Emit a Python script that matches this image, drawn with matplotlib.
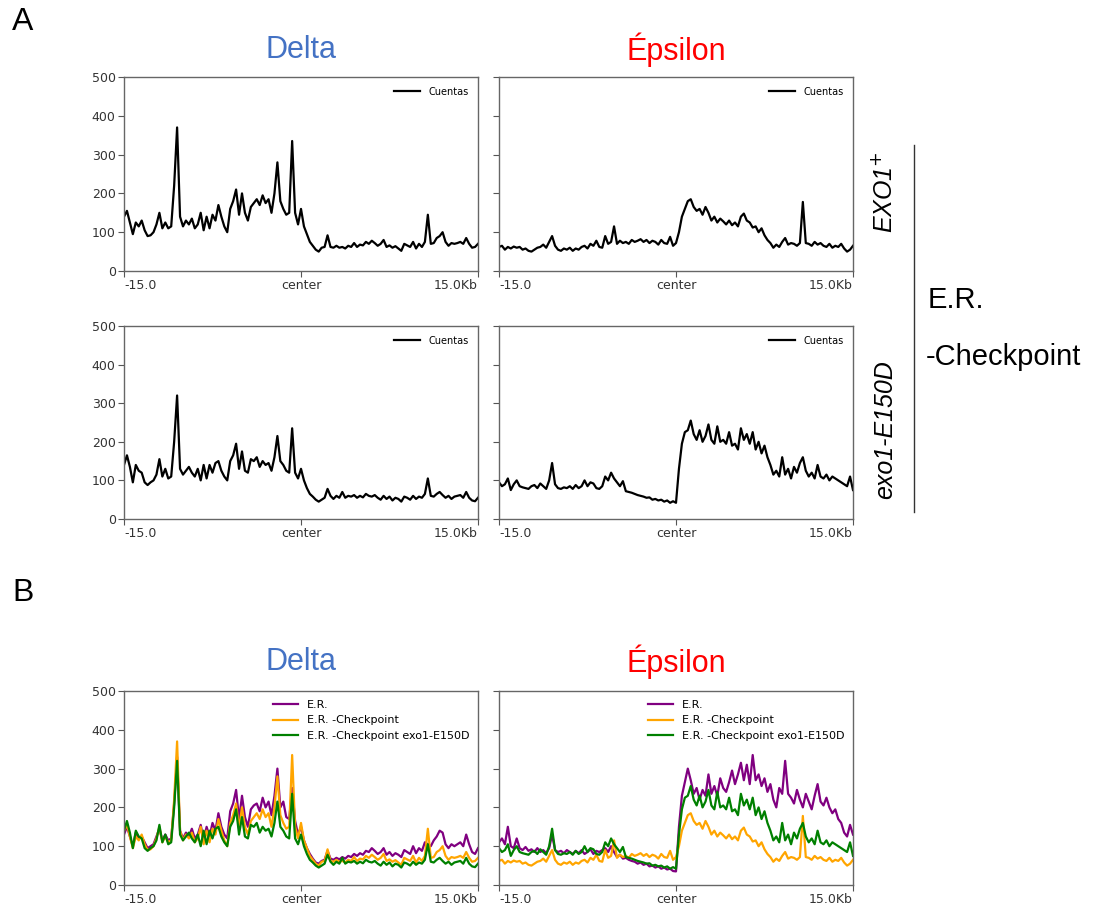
import matplotlib
matplotlib.use("Agg")
import matplotlib.pyplot as plt
import numpy as np

# profile bins, -15 kb .. +15 kb around the center
KB_LEFT = -15.0
KB_RIGHT = 15.0
X_TICKS = [-15.0, 0.0, 15.0]
X_TICK_LABELS = ["-15.0", "center", "15.0Kb"]
Y_TICKS = [0, 100, 200, 300, 400, 500]

COL_TITLES = ["Delta", "Épsilon"]
ROW_LABELS = ["EXO1$^{+}$", "exo1-E150D"]
LEGEND_A = "Cuentas"
LEGEND_B = ["E.R.", "E.R. -Checkpoint", "E.R. -Checkpoint exo1-E150D"]

# Delta, E.R. -Checkpoint (EXO1+)
delta_ckpt = [
    140, 155, 125, 95, 125, 115, 130, 105, 90, 92, 100, 120, 150, 110, 125, 110,
    115, 220, 370, 140, 115, 130, 120, 135, 110, 120, 150, 105, 140, 110, 145, 130,
    170, 140, 115, 100, 160, 180, 210, 145, 200, 150, 130, 165, 175, 185, 170, 195,
    175, 185, 150, 200, 280, 180, 160, 145, 150, 335, 150, 120, 160, 115, 95, 75,
    65, 55, 50, 60, 62, 92, 62, 60, 65, 60, 62, 58, 65, 62, 72, 62,
    68, 66, 75, 70, 78, 72, 65, 70, 80, 62, 66, 60, 64, 58, 52, 70,
    66, 62, 75, 58, 70, 62, 75, 145, 70, 72, 85, 90, 100, 75, 65, 72,
    70, 72, 75, 70, 85, 70, 60, 62, 70,
]

# Delta, E.R. -Checkpoint exo1-E150D
delta_exo1 = [
    140, 165, 135, 95, 140, 125, 120, 95, 88, 95, 100, 115, 155, 110, 130, 105,
    110, 200, 320, 130, 115, 125, 135, 120, 110, 130, 100, 140, 105, 140, 120, 145,
    150, 125, 110, 100, 150, 165, 195, 130, 175, 125, 120, 155, 150, 160, 135, 150,
    140, 145, 125, 160, 215, 150, 140, 125, 120, 235, 120, 105, 130, 100, 80, 65,
    58, 50, 45, 50, 55, 78, 60, 52, 60, 55, 70, 55, 60, 58, 62, 55,
    60, 56, 65, 60, 58, 62, 55, 50, 60, 52, 58, 48, 55, 52, 45, 58,
    55, 50, 60, 52, 58, 55, 65, 105, 60, 58, 65, 70, 62, 55, 60, 52,
    58, 60, 62, 55, 70, 55, 48, 46, 55,
]

# Delta, E.R.
delta_er = [
    130, 150, 125, 100, 135, 120, 125, 110, 95, 100, 105, 125, 145, 115, 130, 115,
    120, 210, 330, 140, 120, 135, 125, 145, 120, 130, 155, 115, 150, 125, 160, 140,
    185, 150, 130, 120, 190, 210, 245, 170, 230, 175, 150, 195, 205, 210, 190, 225,
    200, 215, 180, 230, 300, 200, 215, 175, 170, 250, 165, 130, 150, 115, 95, 80,
    68, 58, 55, 62, 65, 88, 68, 65, 70, 66, 72, 68, 75, 72, 80, 75,
    82, 78, 88, 85, 95, 88, 80, 85, 95, 78, 85, 75, 82, 78, 72, 90,
    85, 80, 100, 82, 95, 88, 110, 105, 100, 115, 125, 140, 135, 105, 95, 105,
    100, 105, 110, 100, 130, 105, 85, 80, 95,
]

# Epsilon, E.R. -Checkpoint (EXO1+)
eps_ckpt = [
    62, 65, 55, 62, 58, 63, 60, 62, 55, 58, 52, 50, 55, 60, 62, 68,
    60, 75, 90, 65, 55, 52, 58, 55, 60, 52, 58, 55, 62, 65, 58, 70,
    65, 78, 62, 60, 90, 70, 75, 115, 70, 78, 72, 75, 70, 80, 75, 78,
    82, 75, 80, 72, 78, 75, 68, 80, 72, 70, 88, 65, 72, 100, 140, 160,
    180, 185, 165, 155, 160, 145, 165, 150, 130, 140, 125, 135, 128, 120, 130, 118,
    125, 115, 140, 148, 130, 125, 112, 115, 100, 110, 92, 80, 72, 60, 68, 62,
    75, 85, 68, 72, 70, 65, 72, 178, 72, 70, 65, 75, 68, 72, 65, 62,
    70, 60, 65, 62, 70, 58, 50, 55, 65,
]

# Epsilon, E.R. -Checkpoint exo1-E150D
eps_exo1 = [
    95, 85, 90, 105, 75, 90, 100, 85, 82, 80, 78, 85, 88, 80, 92, 85,
    78, 100, 145, 90, 80, 78, 82, 80, 85, 78, 88, 80, 85, 100, 85, 95,
    92, 80, 78, 85, 110, 100, 120, 105, 95, 85, 98, 72, 70, 68, 65, 62,
    60, 58, 55, 56, 50, 52, 48, 50, 45, 48, 42, 46, 42, 130, 195, 225,
    230, 255, 220, 205, 230, 200, 215, 245, 205, 195, 240, 200, 205, 195, 225, 190,
    195, 180, 235, 205, 220, 195, 225, 180, 200, 170, 190, 160, 140, 115, 125, 110,
    160, 115, 130, 105, 135, 120, 145, 160, 125, 110, 120, 105, 140, 110, 105, 115,
    100, 110, 105, 100, 95, 90, 85, 110, 75,
]

# Epsilon, E.R.
eps_er = [
    110, 120, 105, 150, 100, 95, 120, 95, 90, 98, 88, 92, 85, 95, 85, 90,
    82, 95, 130, 90, 85, 88, 82, 90, 85, 80, 88, 82, 90, 80, 85, 92,
    80, 88, 85, 90, 95, 85, 100, 85, 72, 78, 68, 70, 65, 62, 60, 55,
    58, 52, 55, 48, 50, 45, 48, 42, 45, 40, 42, 36, 35, 150, 230, 265,
    300, 270, 235, 250, 220, 245, 230, 285, 235, 255, 230, 275, 250, 240, 265, 295,
    260, 285, 315, 270, 310, 260, 335, 270, 285, 255, 275, 240, 260, 220, 200, 250,
    235, 320, 235, 225, 210, 245, 220, 200, 235, 215, 195, 230, 260, 215, 205, 225,
    200, 185, 195, 170, 160, 135, 125, 155, 130,
]

W, H = 1108, 911
fig = plt.figure(figsize=(W / 100, H / 100), dpi=100)


def px_axes(left, top, right, bottom):
    return fig.add_axes([left / W, 1 - bottom / H, (right - left) / W, (bottom - top) / H])


def style_axes(ax, show_ylabels):
    ax.set_xlim(KB_LEFT, KB_RIGHT)
    ax.set_ylim(0, 500)
    ax.set_xticks(X_TICKS)
    labels = ax.set_xticklabels(X_TICK_LABELS, fontsize=9, color="#333333")
    labels[0].set_ha("left")
    labels[-1].set_ha("right")
    ax.set_yticks(Y_TICKS)
    if show_ylabels:
        ax.set_yticklabels([str(v) for v in Y_TICKS], fontsize=9, color="#333333")
    else:
        ax.set_yticklabels([])
    ax.tick_params(length=4, width=0.8, color="#555555", pad=2)
    for sp in ax.spines.values():
        sp.set_color("#666666")
        sp.set_linewidth(1.0)


COLS = [(124, 478), (499, 853)]
ROWS_A = [(77, 271), (326, 519)]
ROW_B = (691, 885)

x = np.linspace(KB_LEFT, KB_RIGHT, len(delta_ckpt))

panel_a = [[delta_ckpt, eps_ckpt], [delta_exo1, eps_exo1]]
for r, (top, bottom) in enumerate(ROWS_A):
    for c, (left, right) in enumerate(COLS):
        ax = px_axes(left, top, right, bottom)
        ax.plot(x, panel_a[r][c], color="black", lw=1.6, label=LEGEND_A)
        style_axes(ax, c == 0)
        ax.legend(loc="upper right", frameon=False, fontsize=7, handlelength=2.7,
                  borderaxespad=0.6)

panel_b = [[delta_er, delta_ckpt, delta_exo1], [eps_er, eps_ckpt, eps_exo1]]
colors_b = ["purple", "orange", "green"]
for c, (left, right) in enumerate(COLS):
    ax = px_axes(left, ROW_B[0], right, ROW_B[1])
    for series, col, lab in zip(panel_b[c], colors_b, LEGEND_B):
        ax.plot(x, series, color=col, lw=1.6, label=lab)
    style_axes(ax, c == 0)
    ax.legend(loc="upper right", frameon=False, fontsize=8, handlelength=2.2,
              labelspacing=0.5, borderaxespad=0.4)

# panel letters and column titles
fig.text(12 / W, 1 - 22 / H, "A", fontsize=23, family="Liberation Sans", va="center", ha="left")
fig.text(12 / W, 1 - 593 / H, "B", fontsize=23, family="Liberation Sans", va="center", ha="left")
title_colors = ["#4472C4", "#FF0000"]
for c, (left, right) in enumerate(COLS):
    cx = (left + right) / 2 / W
    for ty in (50, 662):
        fig.text(cx, 1 - ty / H, COL_TITLES[c], fontsize=22, family="Liberation Sans",
                 color=title_colors[c], ha="center", va="center")

# row labels on the right
fig.text(885 / W, 1 - 192 / H, ROW_LABELS[0], fontsize=18, family="Liberation Sans",
         style="italic", rotation=90, ha="center", va="center")
fig.text(885 / W, 1 - 430 / H, ROW_LABELS[1], fontsize=18, family="Liberation Sans",
         style="italic", rotation=90, ha="center", va="center")
fig.add_artist(plt.Line2D([914 / W, 914 / W], [1 - 145 / H, 1 - 512 / H],
                          color="#333333", lw=1.0))
fig.text(928 / W, 1 - 300 / H, "E.R.", fontsize=21, family="Liberation Sans",
         ha="left", va="center")
fig.text(926 / W, 1 - 357 / H, "-Checkpoint", fontsize=21, family="Liberation Sans",
         ha="left", va="center")

fig.savefig("out.png", dpi=100)
